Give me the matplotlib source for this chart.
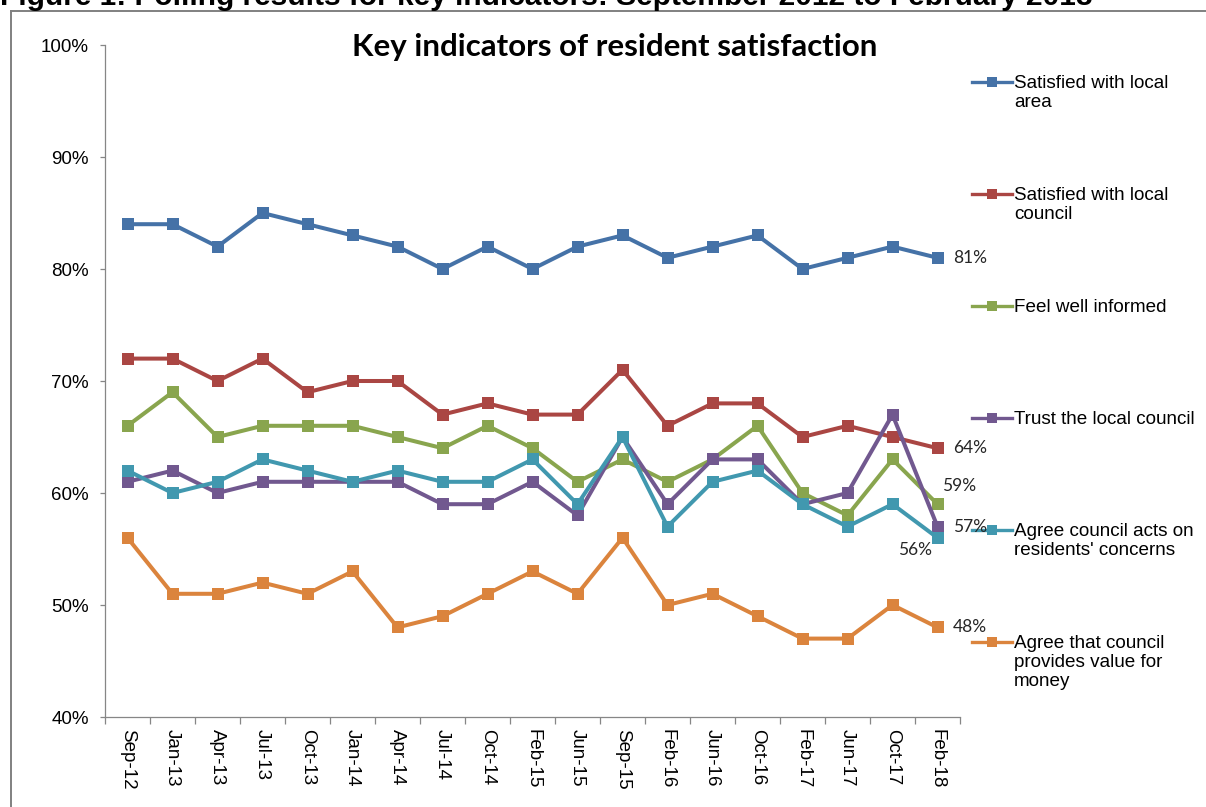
import numpy as np
import matplotlib
matplotlib.use('Agg')
from matplotlib import pyplot as plt
from matplotlib.lines import Line2D

months = ['Sep-12', 'Jan-13', 'Apr-13', 'Jul-13', 'Oct-13', 'Jan-14', 'Apr-14', 'Jul-14',
          'Oct-14', 'Feb-15', 'Jun-15', 'Sep-15', 'Feb-16', 'Jun-16', 'Oct-16', 'Feb-17',
          'Jun-17', 'Oct-17', 'Feb-18']

local_area = [84, 84, 82, 85, 84, 83, 82, 80, 82, 80, 82, 83, 81, 82, 83, 80, 81, 82, 81]
local_council = [72, 72, 70, 72, 69, 70, 70, 67, 68, 67, 67, 71, 66, 68, 68, 65, 66, 65, 64]
well_informed = [66, 69, 65, 66, 66, 66, 65, 64, 66, 64, 61, 63, 61, 63, 66, 60, 58, 63, 59]
trust_council = [61, 62, 60, 61, 61, 61, 61, 59, 59, 61, 58, 65, 59, 63, 63, 59, 60, 67, 57]
acts_concerns = [62, 60, 61, 63, 62, 61, 62, 61, 61, 63, 59, 65, 57, 61, 62, 59, 57, 59, 56]
value_money = [56, 51, 51, 52, 51, 53, 48, 49, 51, 53, 51, 56, 50, 51, 49, 47, 47, 50, 48]

labels = ['Satisfied with local\narea', 'Satisfied with local\ncouncil', 'Feel well informed',
          'Trust the local council', "Agree council acts on\nresidents' concerns",
          'Agree that council\nprovides value for\nmoney']
colors = ['#4572A7', '#AA4643', '#89A54E', '#71588F', '#4198AF', '#DB843D']
series = [local_area, local_council, well_informed, trust_council, acts_concerns, value_money]

# offsets (points) for the end-of-line value labels
end_offsets = [(11, 0, 'left'), (11, 0, 'left'), (3.5, 13, 'left'),
               (11, 0, 'left'), (-4, -9, 'right'), (11, 0, 'left')]

fig = plt.figure(figsize=(12.06, 8.07), dpi=100)
ax = fig.add_axes([105/1206, 90/807, 855/1206, 672/807])

x = np.arange(len(months))
for vals, c in zip(series, colors):
    ax.plot(x, vals, color=c, lw=2.9, marker='s', ms=8.5, mew=0, solid_joinstyle='miter')

for vals, c, (dx, dy, ha) in zip(series, colors, end_offsets):
    ax.annotate('%d%%' % vals[-1], xy=(x[-1], vals[-1]), xytext=(dx, dy),
                textcoords='offset points', ha=ha, va='center',
                fontsize=12.5, family='Lato', color='#262626', annotation_clip=False)

ax.set_xlim(-0.5, len(months) - 0.5)
ax.set_ylim(40, 100)
ax.set_yticks(range(40, 101, 10))
ax.set_yticklabels(['%d%%' % v for v in range(40, 101, 10)])
ax.set_xticks(x)
ax.set_xticklabels(months, rotation=270)
ax.set_xticks(np.arange(len(months) + 1) - 0.5, minor=True)

for s in ['top', 'right']:
    ax.spines[s].set_visible(False)
for s in ['left', 'bottom']:
    ax.spines[s].set_color('#868686')
    ax.spines[s].set_linewidth(0.9)

ax.tick_params(axis='y', length=3.6, width=0.9, color='#868686', pad=8,
               labelsize=13.5, labelfontfamily='Liberation Sans')
ax.tick_params(axis='x', which='major', length=0, pad=8.5,
               labelsize=13.5, labelfontfamily='Liberation Sans')
ax.tick_params(axis='x', which='minor', length=5, width=0.9, color='#868686')

# legend on the right, one entry per 1/6 of the axis height
for k, (lab, c) in enumerate(zip(labels, colors)):
    yy = 0.945 - k / 6
    ax.add_line(Line2D([1.014, 1.061], [yy, yy], color=c, lw=2.4,
                       transform=ax.transAxes, clip_on=False))
    ax.add_line(Line2D([1.0375], [yy], color=c, marker='s', ms=7, mew=0,
                       transform=ax.transAxes, clip_on=False))
    ax.annotate(lab, xy=(1.063, yy), xycoords='axes fraction', xytext=(0, 4.8),
                textcoords='offset points', ha='left', va='top', fontsize=13.6,
                family='Liberation Sans', linespacing=1.15, color='black')

fig.text(0.51, 1 - 47/807, 'Key indicators of resident satisfaction', ha='center',
         va='center', fontsize=22.5, fontweight='bold', family='Lato')

fig.text(0.0, 1 - 5/807, 'Figure 1: Polling results for key indicators: September 2012 to February 2018',
         ha='left', va='baseline', fontsize=21.5, fontweight='bold', family='Liberation Sans')

# chart border
fig.add_artist(Line2D([11/1206, 1.0], [1 - 11/807, 1 - 11/807], color='#808080', lw=1.4))
fig.add_artist(Line2D([11/1206, 11/1206], [0, 1 - 11/807], color='#808080', lw=1.4))

fig.savefig('out.png', dpi=100)
